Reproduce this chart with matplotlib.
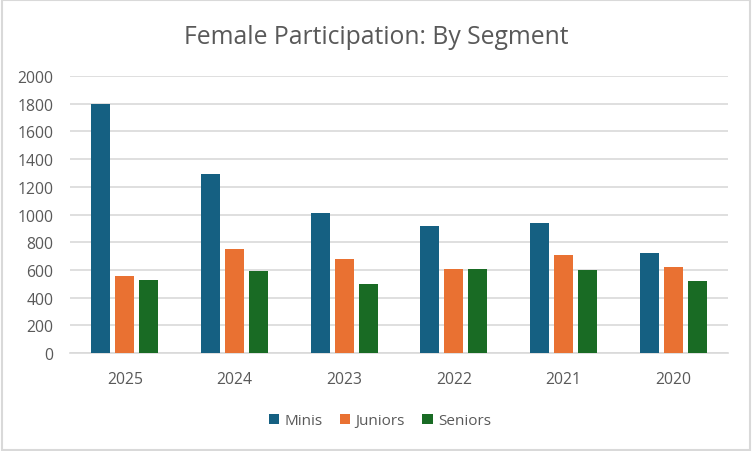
import numpy as np
import matplotlib
matplotlib.use("Agg")
import matplotlib.pyplot as plt
from matplotlib.patches import Rectangle

plt.rcParams["font.family"] = ["Open Sans", "DejaVu Sans"]

years = ["2025", "2024", "2023", "2022", "2021", "2020"]
minis = [1800, 1295, 1010, 920, 940, 722]
juniors = [555, 750, 678, 605, 707, 620]
seniors = [525, 592, 497, 605, 600, 518]
series_names = ["Minis", "Juniors", "Seniors"]
colors = ["#156082", "#E97132", "#196B24"]
yticks = [0, 200, 400, 600, 800, 1000, 1200, 1400, 1600, 1800, 2000]

fig = plt.figure(figsize=(7.52, 4.52), dpi=100)
ax = fig.add_axes([0.0931, 0.2168, 0.875, 0.6128])

x = np.arange(len(years))
w = 0.173
step = 0.219
for i, (vals, name, c) in enumerate(zip([minis, juniors, seniors], series_names, colors)):
    ax.bar(x + (i - 1) * step, vals, width=w, color=c, label=name, zorder=3)

ax.set_xlim(-0.5, len(years) - 0.5)
ax.set_ylim(0, 2000)
ax.set_yticks(yticks)
ax.set_yticklabels([str(v) for v in yticks])
ax.set_xticks(x)
ax.set_xticklabels(years)
ax.yaxis.grid(True, color="#D9D9D9", linewidth=1.2, zorder=0)
for s in ["top", "right", "left"]:
    ax.spines[s].set_visible(False)
ax.spines["bottom"].set_color("#D9D9D9")
ax.spines["bottom"].set_linewidth(1.2)
ax.tick_params(axis="both", length=0, labelsize=11.3, labelcolor="#595959")
ax.tick_params(axis="y", pad=12)
ax.tick_params(axis="x", pad=13)

fig.text(0.5, 0.918, "Female Participation: By Segment", ha="center", va="center",
         fontsize=17.8, color="#595959")

fig.legend(loc="center", bbox_to_anchor=(0.505, 0.067), ncol=3, frameon=False,
           fontsize=11, labelcolor="#595959", handlelength=0.7, handleheight=0.7,
           handletextpad=0.35, columnspacing=1.1)

fig.patches.append(Rectangle((0.002, 0.002), 0.996, 0.996, transform=fig.transFigure,
                             fill=False, edgecolor="#D9D9D9", linewidth=1.5))

fig.savefig("out.png", dpi=100)
